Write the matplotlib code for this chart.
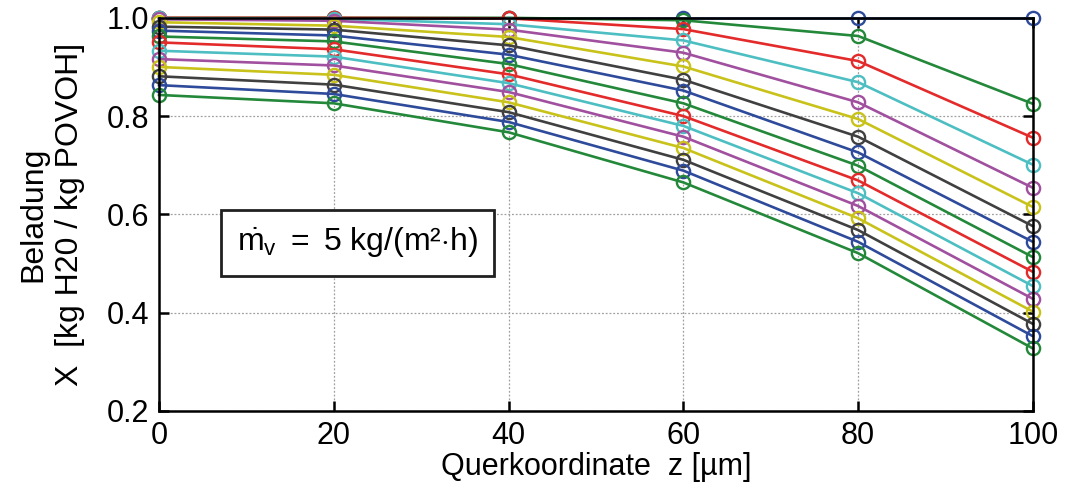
import matplotlib
matplotlib.use("Agg")
import matplotlib.pyplot as plt

plt.rcParams['font.family'] = ['Liberation Sans', 'DejaVu Sans']
plt.rcParams['mathtext.fontset'] = 'custom'
plt.rcParams['mathtext.rm'] = 'Liberation Sans'
plt.rcParams['mathtext.it'] = 'Liberation Sans'

# Querkoordinate z [um]
z = [0, 20, 40, 60, 80, 100]

# Beladung X, one list per time step (top to bottom)
X01 = [1.000, 1.000, 1.000, 1.000, 1.000, 1.000]
X02 = [1.000, 1.000, 1.000, 0.995, 0.963, 0.825]
X03 = [1.000, 1.000, 0.999, 0.977, 0.912, 0.756]
X04 = [0.999, 0.998, 0.987, 0.954, 0.869, 0.701]
X05 = [0.997, 0.994, 0.976, 0.929, 0.828, 0.654]
X06 = [0.991, 0.984, 0.961, 0.901, 0.794, 0.615]
X07 = [0.982, 0.976, 0.944, 0.874, 0.758, 0.576]
X08 = [0.974, 0.964, 0.925, 0.852, 0.726, 0.544]
X09 = [0.962, 0.952, 0.906, 0.826, 0.699, 0.513]
X10 = [0.950, 0.936, 0.885, 0.800, 0.669, 0.483]
X11 = [0.933, 0.921, 0.867, 0.780, 0.643, 0.454]
X12 = [0.916, 0.903, 0.849, 0.758, 0.617, 0.428]
X13 = [0.900, 0.884, 0.828, 0.735, 0.592, 0.402]
X14 = [0.881, 0.864, 0.808, 0.711, 0.568, 0.377]
X15 = [0.863, 0.845, 0.788, 0.689, 0.544, 0.352]
X16 = [0.843, 0.826, 0.767, 0.665, 0.521, 0.327]

curves = [X01, X02, X03, X04, X05, X06, X07, X08,
          X09, X10, X11, X12, X13, X14, X15, X16]

# matlab-like colour order
colors = ['#2e4a9a', '#23883a', '#e32b2b', '#4dbec2',
          '#a0509e', '#c8c21a', '#404040']

xticks = [0, 20, 40, 60, 80, 100]
yticks = [0.2, 0.4, 0.6, 0.8, 1.0]

fig = plt.figure(figsize=(10.67, 4.95), dpi=100)
ax = fig.add_axes([0.149, 0.170, 0.819, 0.794])

for i, X in enumerate(curves):
    c = colors[i % len(colors)]
    ax.plot(z, X, '-', color=c, lw=1.9, marker='o', ms=9.5,
            mfc='none', mec=c, mew=1.7, clip_on=False, zorder=3)

ax.set_xlim(0, 100)
ax.set_ylim(0.2, 1.0)
ax.set_xticks(xticks)
ax.set_yticks(yticks)
ax.set_yticklabels(['%.1f' % t for t in yticks])

ax.grid(True, color='#a0a0a0', linestyle=(0, (1.5, 1.5)), linewidth=0.9)
ax.tick_params(direction='in', length=7, width=1.8, top=True, right=True,
               labelsize=22, pad=7)
for s in ax.spines.values():
    s.set_linewidth(1.8)
    s.set_zorder(4)

ax.set_xlabel('Querkoordinate  z [µm]', fontsize=22, labelpad=1)
ax.set_ylabel('Beladung\nX  [kg H20 / kg POVOH]', fontsize=23,
              linespacing=1.25, labelpad=16)

ax.text(0.227, 0.427, r'$\dot{\mathrm{m}}_\mathrm{v}$ $=$ 5 kg/(m²$\cdot$h)',
        transform=ax.transAxes, fontsize=23, ha='center', va='center',
        bbox=dict(boxstyle='square,pad=0.5', fc='white', ec='#202020', lw=2),
        zorder=5)

fig.savefig('out.png', dpi=100)
